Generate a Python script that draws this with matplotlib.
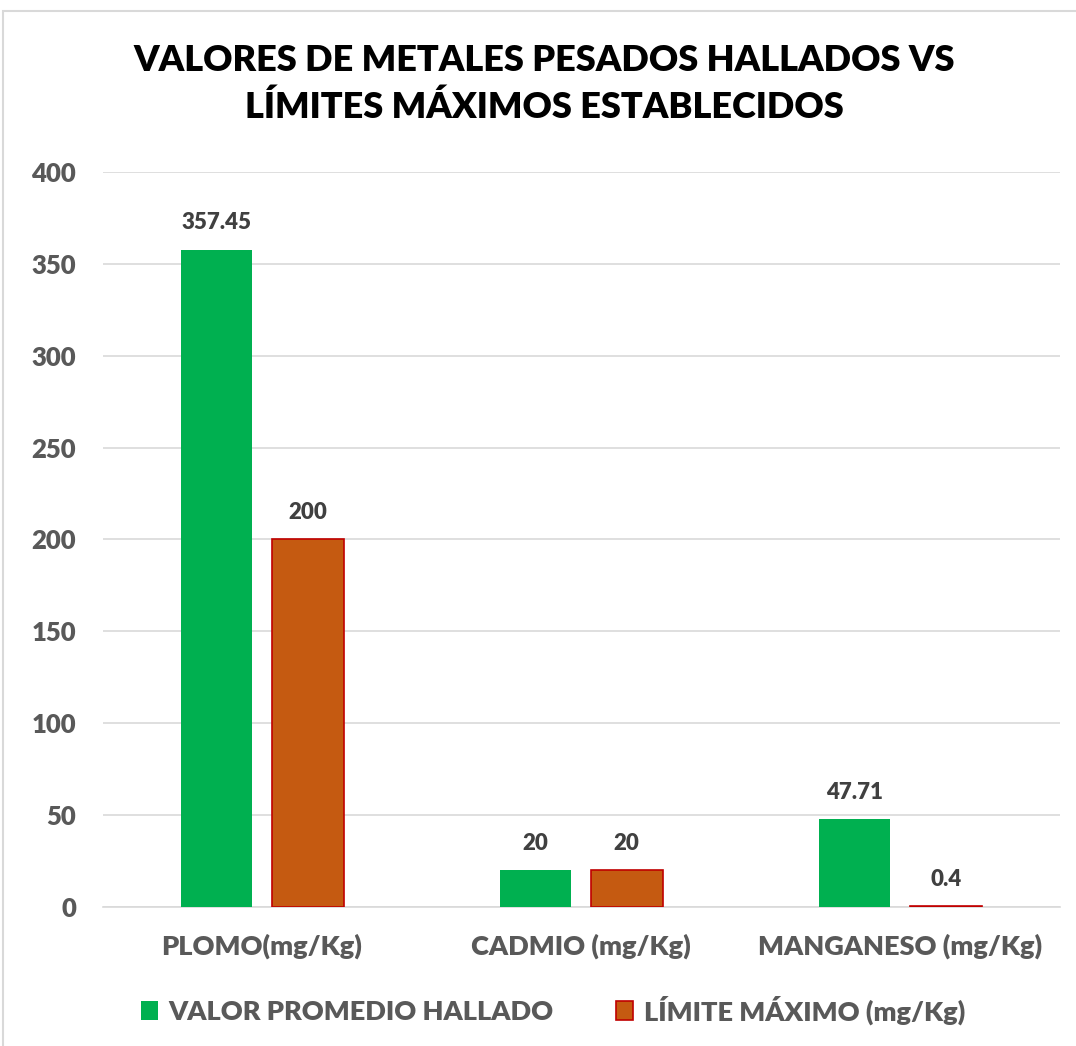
import numpy as np
import matplotlib.pyplot as plt
from matplotlib.patches import Rectangle

categorias = ["PLOMO(mg/Kg)", "CADMIO (mg/Kg)", "MANGANESO (mg/Kg)"]
valor_hallado = [357.45, 20, 47.71]
limite_maximo = [200, 20, 0.4]
etiquetas_hallado = ["357.45", "20", "47.71"]
etiquetas_limite = ["200", "20", "0.4"]

plt.rcParams['font.family'] = ['Lato', 'DejaVu Sans']

fig = plt.figure(figsize=(10.76, 10.46), dpi=100)
fig.patches.append(Rectangle((0.0028, -0.01), 1.1, 0.9995, transform=fig.transFigure,
                             fill=False, edgecolor='#d9d9d9', linewidth=1.5))
ax = fig.add_axes([0.0953, 0.1329, 0.8894, 0.7027])

x = np.arange(len(categorias))
ancho = 0.225
desp = 0.143

b1 = ax.bar(x - desp, valor_hallado, ancho, color='#00B050', label='VALOR PROMEDIO HALLADO', zorder=3)
b2 = ax.bar(x + desp, limite_maximo, ancho, color='#C55A11', edgecolor='#C00000', linewidth=1.2,
            label='LÍMITE MÁXIMO (mg/Kg)', zorder=3)

for barras, etiquetas in [(b1, etiquetas_hallado), (b2, etiquetas_limite)]:
    for b, t in zip(barras, etiquetas):
        ax.annotate(t, (b.get_x() + b.get_width() / 2, b.get_height()), xytext=(0, 12),
                    textcoords='offset points', ha='center', va='bottom',
                    fontsize=16, fontweight='heavy', color='#404040')

ax.set_xlim(-0.5, 2.5)
ax.set_ylim(0, 400)
ax.set_yticks(np.arange(0, 401, 50))
ax.set_xticks(x)
ax.set_xticklabels(categorias, fontweight='heavy', fontsize=19.5)
ax.set_yticklabels([str(v) for v in range(0, 401, 50)], fontweight='heavy', fontsize=18.5)
ax.tick_params(axis='both', length=0, labelcolor='#595959')
ax.tick_params(axis='x', pad=19)
ax.tick_params(axis='y', pad=19)
ax.grid(axis='y', color='#d9d9d9', linewidth=1.2, zorder=0)
for s in ['top', 'right', 'left']:
    ax.spines[s].set_visible(False)
ax.spines['bottom'].set_color('#d9d9d9')
ax.spines['bottom'].set_linewidth(1.2)

fig.text(0.506, 0.920, "VALORES DE METALES PESADOS HALLADOS VS\nLÍMITES MÁXIMOS ESTABLECIDOS",
         ha='center', va='center', fontsize=26, fontweight='heavy', color='black', linespacing=1.5)

leg = fig.legend(loc='center', bbox_to_anchor=(0.514, 0.0344), ncol=2, frameon=False,
                 prop={'size': 19.5, 'weight': 'heavy'}, handlelength=0.62, handleheight=0.7,
                 handletextpad=0.4, columnspacing=2.3)
for t in leg.get_texts():
    t.set_color('#595959')

fig.savefig('out.png', dpi=100)
